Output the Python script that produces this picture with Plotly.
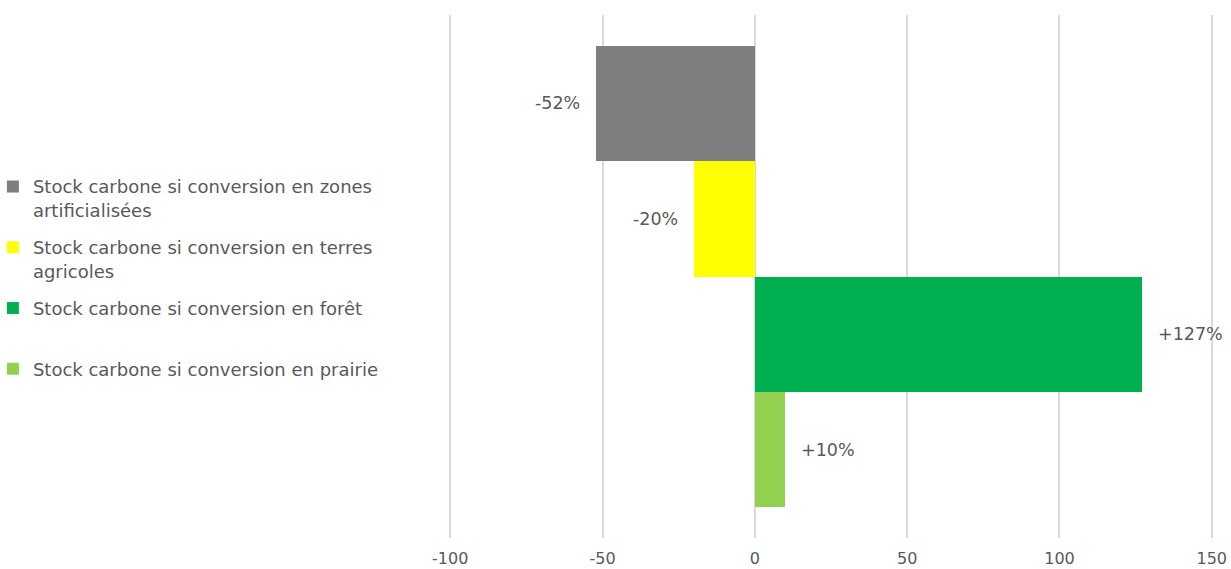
import plotly.graph_objects as go

categories = ["zones", "terres", "foret", "prairie"]
names = [
    "Stock carbone si conversion en zones<br>artificialisées",
    "Stock carbone si conversion en terres<br>agricoles",
    "Stock carbone si conversion en forêt<br> ",
    "Stock carbone si conversion en prairie<br> ",
]
values = [-52, -20, 127, 10]
colors = ["#7f7f7f", "#ffff00", "#00b050", "#92d050"]
tick_vals = [-100, -50, 0, 50, 100, 150]
tick_labels = ["-100", "-50", "0", "50", "100", "150"]

FONT = "DejaVu Sans"
TXT = "#595959"

fig = go.Figure()
for cat, name, v, c in zip(categories, names, values, colors):
    fig.add_trace(go.Bar(
        y=[cat], x=[v], orientation="h", name=name, legendgroup=cat,
        marker=dict(color=c, line=dict(width=0)),
        hoverinfo="skip",
    ))
    fig.add_annotation(
        x=v, y=cat, text=f"{v:+d}%", showarrow=False,
        xanchor="left" if v > 0 else "right",
        xshift=14 if v > 0 else -14,
        font=dict(family=FONT, size=17.5, color=TXT),
    )

fig.update_layout(
    width=1231, height=569,
    margin=dict(l=449, r=18, t=15, b=31, autoexpand=False),
    paper_bgcolor="white", plot_bgcolor="white",
    barmode="relative", bargap=0,
    showlegend=True,
    legend=dict(
        xref="paper", yref="paper",
        x=-0.597, xanchor="left", y=0.707, yanchor="top",
        font=dict(family=FONT, size=18, color=TXT),
        valign="top", itemwidth=30, tracegroupgap=11,
        traceorder="grouped", bgcolor="rgba(0,0,0,0)",
    ),
    font=dict(family=FONT, size=17, color=TXT),
)
fig.update_xaxes(
    range=[-100.4, 150.4], tickvals=tick_vals, ticktext=tick_labels,
    automargin=False,
    showgrid=True, gridcolor="#d9d9d9", gridwidth=2,
    zeroline=False, showline=False,
    ticks="outside", ticklen=6, tickcolor="rgba(0,0,0,0)",
    tickfont=dict(family=FONT, size=16, color=TXT),
)
fig.update_yaxes(
    categoryorder="array", categoryarray=categories,
    range=[3.765, -0.765], showticklabels=False, automargin=False,
    showgrid=False, zeroline=False, showline=False,
)
fig.write_html(
    "out.html",
    config={"displayModeBar": False},
    post_script="document.body.style.margin='0';",
)
